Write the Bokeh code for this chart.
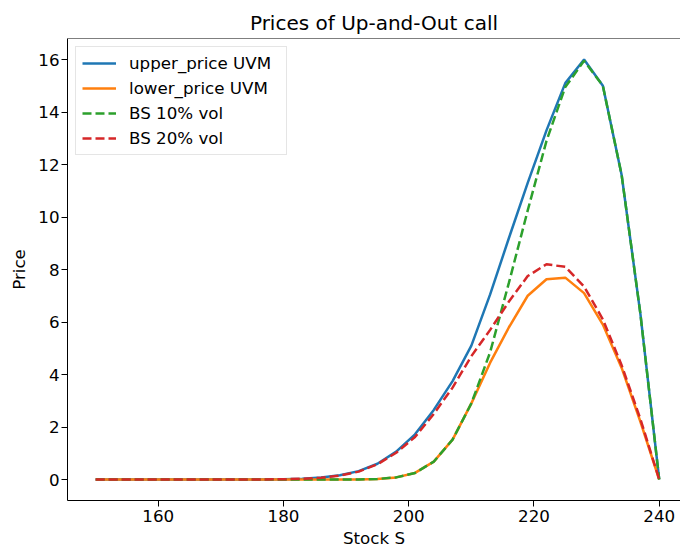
from bokeh.plotting import figure
from bokeh.models import Range1d, Legend, LegendItem, FixedTicker, Span
from bokeh.embed import file_html
from bokeh.resources import INLINE

# Spot prices on the grid
stock = [150, 153, 156, 159, 162, 165, 168, 171, 174, 177, 180, 183, 186, 189, 192,
         195, 198, 201, 204, 207, 210, 213, 216, 219, 222, 225, 228, 231, 234, 237, 240]

# Uncertain-volatility-model bounds
upper_uvm = [0, 0, 0, 0, 0, 0, 0, 0, 0, 0.003, 0.01, 0.03, 0.08, 0.16, 0.32,
             0.60, 1.06, 1.72, 2.65, 3.75, 5.10, 7.05, 9.20, 11.30, 13.30, 15.10, 16.00,
             15.00, 11.60, 6.30, 0.0]
lower_uvm = [0, 0, 0, 0, 0, 0, 0, 0, 0, 0, 0, 0, 0, 0, 0.002,
             0.02, 0.08, 0.25, 0.68, 1.52, 2.90, 4.45, 5.80, 7.00, 7.63, 7.69, 7.10,
             5.90, 4.25, 2.20, 0.0]

# Black-Scholes prices at constant volatility
bs_10 = [0, 0, 0, 0, 0, 0, 0, 0, 0, 0, 0, 0, 0, 0, 0.002,
         0.02, 0.08, 0.25, 0.68, 1.52, 2.90, 4.85, 7.50, 10.25, 12.90, 14.95, 15.95,
         15.00, 11.60, 6.30, 0.0]
bs_20 = [0, 0, 0, 0, 0, 0, 0, 0, 0, 0.003, 0.01, 0.03, 0.07, 0.15, 0.30,
         0.58, 1.02, 1.62, 2.50, 3.50, 4.70, 5.70, 6.78, 7.75, 8.20, 8.10, 7.35,
         6.10, 4.35, 2.30, 0.0]

x_ticks = [160, 180, 200, 220, 240]
y_ticks = [0, 2, 4, 6, 8, 10, 12, 14, 16]

FONT = "DejaVu Sans"
TXT = "16.7px"
Y_TOP = 16.8

p = figure(width=680, height=550, output_backend="svg", toolbar_location=None,
           x_range=Range1d(145.5, 243.4), y_range=Range1d(-0.8, Y_TOP),
           min_border_left=67, min_border_right=0, min_border_top=38,
           min_border_bottom=49, title="Prices of Up-and-Out call")

p.title.text_font = FONT
p.title.text_font_size = "20px"
p.title.text_font_style = "normal"
p.title.text_color = "black"
p.title.align = "center"
p.title.standoff = 7

p.xgrid.visible = False
p.ygrid.visible = False
# the frame runs past the right edge of the page, so only the top border is drawn
p.outline_line_color = None
p.add_layout(Span(location=Y_TOP, dimension="width", line_color="black", line_width=1))
p.background_fill_color = "white"
p.border_fill_color = "white"

for ax, ticks, label in ((p.xaxis[0], x_ticks, "Stock S"), (p.yaxis[0], y_ticks, "Price")):
    ax.ticker = FixedTicker(ticks=ticks)
    ax.axis_label = label
    ax.axis_label_text_font = FONT
    ax.axis_label_text_font_size = TXT
    ax.axis_label_text_font_style = "normal"
    ax.axis_label_text_color = "black"
    ax.major_label_text_font = FONT
    ax.major_label_text_font_size = TXT
    ax.major_label_text_color = "black"
    ax.axis_line_color = "black"
    ax.major_tick_line_color = "black"
    ax.major_tick_out = 6
    ax.major_tick_in = 0
    ax.minor_tick_line_color = None
    ax.major_label_standoff = 2

p.xaxis[0].major_label_standoff = 3
p.xaxis[0].axis_label_standoff = 3
p.yaxis[0].axis_label_standoff = 6

r1 = p.line(stock, upper_uvm, line_color="#1f77b4", line_width=2.5)
r2 = p.line(stock, lower_uvm, line_color="#ff7f0e", line_width=2.5)
r3 = p.line(stock, bs_10, line_color="#2ca02c", line_width=2.5, line_dash="9 4")
r4 = p.line(stock, bs_20, line_color="#d62728", line_width=2.5, line_dash="9 4")

legend = Legend(items=[
    LegendItem(label="upper_price UVM", renderers=[r1]),
    LegendItem(label="lower_price UVM", renderers=[r2]),
    LegendItem(label="BS 10% vol", renderers=[r3]),
    LegendItem(label="BS 20% vol", renderers=[r4]),
], location="top_left")
legend.label_text_font = FONT
legend.label_text_font_size = TXT
legend.label_text_color = "black"
legend.glyph_width = 34
legend.glyph_height = 20
legend.label_height = 20
legend.label_width = 151
legend.label_standoff = 13
legend.spacing = 5
legend.padding = 6
legend.margin = 8
legend.border_line_color = "#cccccc"
legend.border_line_width = 1
legend.background_fill_color = "white"
legend.background_fill_alpha = 0.8
p.add_layout(legend)

open("out.html", "w").write(file_html(p, INLINE))
